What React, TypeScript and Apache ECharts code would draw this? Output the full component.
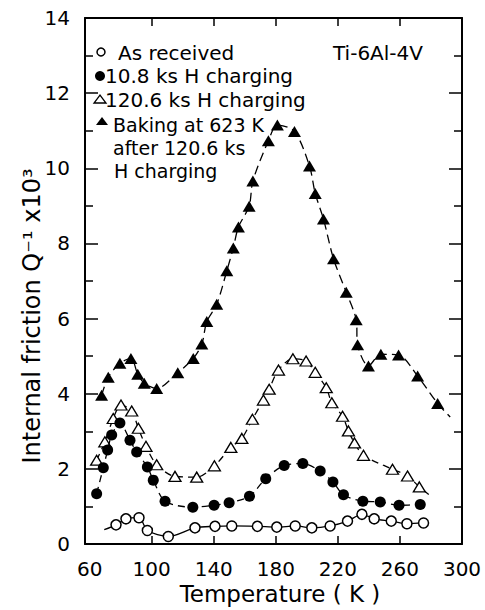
import React, { useEffect, useRef } from "react";
import * as echarts from "echarts";

// ---- Data (Temperature K, Q^-1 x10^3) ----
const asReceivedT = [77.0, 83.4, 91.8, 97.2, 110.7, 127.9, 140.8, 151.6, 168.1, 180.6, 192.5, 203.2, 215.0, 226.2, 235.5, 243.4, 254.4, 264.5, 275.2];
const asReceivedQ = [0.51, 0.67, 0.70, 0.36, 0.20, 0.43, 0.47, 0.48, 0.47, 0.45, 0.48, 0.43, 0.48, 0.61, 0.79, 0.67, 0.61, 0.54, 0.56];
const asReceivedLead = [69.4, 0.38];

const h108T = [64.5, 68.8, 71.6, 74.2, 79.5, 86.0, 90.3, 97.2, 101.0, 108.6, 126.5, 140.2, 149.9, 163.0, 173.5, 185.4, 197.4, 208.6, 216.8, 223.6, 236.1, 247.3, 259.4, 273.1];
const h108Q = [1.34, 2.03, 2.50, 2.90, 3.22, 2.76, 2.45, 2.05, 1.70, 1.14, 0.98, 1.03, 1.10, 1.27, 1.74, 2.09, 2.14, 1.94, 1.65, 1.31, 1.14, 1.12, 1.03, 1.05];

const h1206T = [64.5, 69.8, 75.2, 80.2, 87.1, 91.4, 96.3, 103.2, 115.0, 129.0, 140.4, 151.0, 158.1, 164.9, 172.0, 175.7, 181.7, 191.0, 199.5, 205.4, 212.5, 216.1, 223.0, 226.8, 230.7, 236.5, 255.2, 264.9, 272.5];
const h1206Q = [2.23, 2.72, 3.34, 3.70, 3.54, 3.08, 2.60, 2.11, 1.80, 1.78, 2.08, 2.57, 2.81, 3.32, 3.83, 4.12, 4.63, 4.93, 4.87, 4.57, 4.16, 3.76, 3.40, 3.01, 2.69, 2.36, 1.99, 1.81, 1.52];
const h1206Tail = [280.6, 1.25];

const bakedT = [67.7, 72.0, 79.5, 86.6, 91.0, 95.2, 103.2, 116.8, 126.8, 132.3, 135.5, 141.9, 148.4, 152.6, 155.9, 162.8, 165.2, 175.2, 181.0, 192.0, 201.7, 205.4, 210.7, 217.2, 225.4, 231.8, 232.7, 239.7, 247.7, 259.1, 271.4, 284.3];
const bakedQ = [3.96, 4.44, 4.81, 4.94, 4.52, 4.28, 4.14, 4.56, 4.94, 5.32, 5.92, 6.38, 7.27, 7.88, 8.44, 8.99, 9.66, 10.73, 11.15, 10.98, 10.06, 9.33, 8.65, 7.59, 6.70, 5.97, 5.30, 4.74, 5.05, 5.03, 4.47, 3.74];
const bakedTail = [292.4, 3.38];

const xLabelValues = [60, 100, 140, 180, 220, 260, 300];
const xTickValues = [100, 140, 180, 220, 260];

const seriesNames = ["As received", "10.8 ks H charging", "120.6 ks H charging", "Baking at 623 K after 120.6 ks H charging"];

const FONT = "DejaVu Sans";

function pts(xs: number[], ys: number[]) {
  return xs.map((x, i) => [x, ys[i]]);
}

export default function App() {
  const ref = useRef<HTMLDivElement>(null);
  useEffect(() => {
    if (!ref.current) return;
    const chart = echarts.init(ref.current, undefined, { renderer: "svg" });
    const black = "#000";
    const xAxisBase = {
      type: "value",
      min: 57,
      max: 300,
      splitLine: { show: false },
      axisLine: { show: true, onZero: false, lineStyle: { color: black, width: 2 } },
      axisTick: { show: true, inside: true, length: 8, customValues: xTickValues, lineStyle: { color: black, width: 1.5 } },
    };
    const yAxisBase = {
      type: "value",
      min: 0,
      max: 14,
      interval: 2,
      splitLine: { show: false },
      axisLine: { show: true, onZero: false, lineStyle: { color: black, width: 2 } },
      axisTick: { show: true, inside: true, length: 13, lineStyle: { color: black, width: 1.5 } },
      minorTick: { show: true, splitNumber: 2, length: 8, lineStyle: { color: black, width: 1.5 } },
      minorSplitLine: { show: false },
    };
    const legendText = (x: number, y: number, text: string, size = 20, extra: any = {}) => ({
      type: "text",
      x,
      y,
      style: { text, fill: black, font: `${size}px "${FONT}"`, textAlign: "left", textVerticalAlign: "middle", ...extra },
    });
    chart.setOption({
      animation: false,
      backgroundColor: "#fff",
      grid: { left: 85, right: 23, top: 18, bottom: 66 },
      xAxis: [
        {
          ...xAxisBase,
          position: "bottom",
          axisLabel: { show: true, customValues: xLabelValues, margin: 15, color: black, fontFamily: FONT, fontSize: 20 },
        },
        { ...xAxisBase, position: "top", axisLabel: { show: false } },
      ],
      yAxis: [
        {
          ...yAxisBase,
          position: "left",
          axisLabel: { show: true, margin: 15, color: black, fontFamily: FONT, fontSize: 20 },
        },
        { ...yAxisBase, position: "right", axisLabel: { show: false } },
      ],
      series: [
        {
          name: seriesNames[0],
          type: "line",
          smooth: 0.3,
          showAllSymbol: true,
          symbol: "circle",
          symbolSize: 10,
          itemStyle: { color: "#fff", borderColor: black, borderWidth: 1.5 },
          lineStyle: { color: black, width: 1.3, type: "solid" },
          data: [{ value: asReceivedLead, symbol: "none" }, ...pts(asReceivedT, asReceivedQ)],
          z: 5,
        },
        {
          name: seriesNames[1],
          type: "line",
          smooth: 0.3,
          showAllSymbol: true,
          symbol: "circle",
          symbolSize: 11,
          itemStyle: { color: black },
          lineStyle: { color: black, width: 1.3, type: [7, 5] },
          data: pts(h108T, h108Q),
          z: 4,
        },
        {
          name: seriesNames[2],
          type: "line",
          smooth: 0.3,
          showAllSymbol: true,
          symbol: "triangle",
          symbolSize: [12, 10],
          itemStyle: { color: "#fff", borderColor: black, borderWidth: 1.3 },
          lineStyle: { color: black, width: 1.3, type: [7, 5] },
          data: [...pts(h1206T, h1206Q), { value: h1206Tail, symbol: "none" }],
          z: 3,
        },
        {
          name: seriesNames[3],
          type: "line",
          smooth: 0.3,
          showAllSymbol: true,
          symbol: "triangle",
          symbolSize: [13, 11],
          itemStyle: { color: black },
          lineStyle: { color: black, width: 1.3, type: [9, 5] },
          data: [...pts(bakedT, bakedQ), { value: bakedTail, symbol: "none" }],
          z: 2,
        },
      ],
      graphic: [
        // legend
        { type: "circle", shape: { cx: 101, cy: 52, r: 4 }, style: { fill: "#fff", stroke: black, lineWidth: 1.5 } },
        legendText(118, 53, "As received"),
        { type: "circle", shape: { cx: 100, cy: 76, r: 5 }, style: { fill: black } },
        legendText(105, 76, "10.8 ks H charging"),
        { type: "polygon", shape: { points: [[94, 103], [106, 103], [100, 95]] }, style: { fill: "#fff", stroke: black, lineWidth: 1.3 } },
        legendText(105, 100, "120.6 ks H charging"),
        { type: "polygon", shape: { points: [[96, 125], [108, 125], [102, 117]] }, style: { fill: black } },
        legendText(113, 125, "Baking at 623 K", 19),
        legendText(113, 148, "after 120.6 ks", 19),
        legendText(114, 171, "H charging", 19),
        legendText(333, 53, "Ti-6Al-4V"),
        // axis titles
        {
          type: "text",
          x: 280,
          y: 594,
          style: { text: "Temperature ( K )", fill: black, font: `23px "${FONT}"`, textAlign: "center", textVerticalAlign: "middle" },
        },
        {
          type: "text",
          x: 32,
          y: 316,
          rotation: Math.PI / 2,
          style: { text: "Internal friction Q⁻¹ x10³", fill: black, font: `24px "${FONT}"`, textAlign: "center", textVerticalAlign: "middle" },
        },
      ],
    });
    return () => chart.dispose();
  }, []);
  return (
    <div
      ref={ref}
      style={{ position: "fixed", left: 0, top: 0, width: 485, height: 610, background: "#fff" }}
    />
  );
}
